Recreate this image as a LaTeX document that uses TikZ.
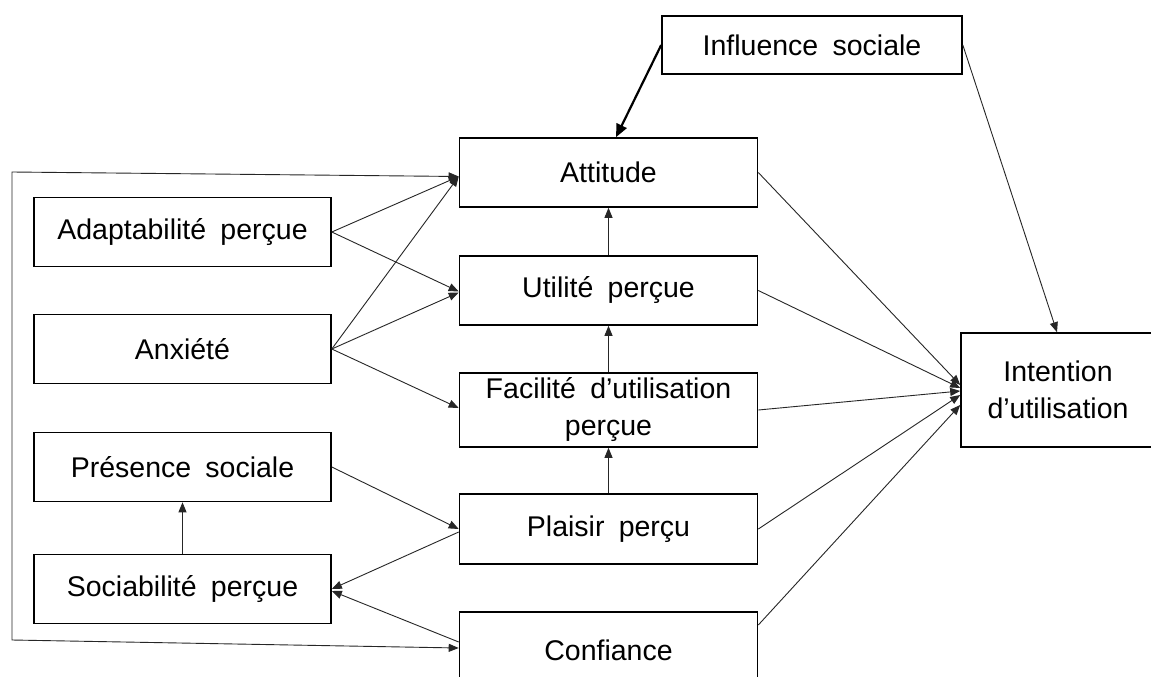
\documentclass[tikz,border=0pt]{standalone}
\usepackage{fontspec}
\setmainfont[WordSpace=1.8]{Liberation Sans}
\usetikzlibrary{arrows.meta}
\begin{document}
\begin{tikzpicture}[x=1pt,y=-1pt,
  box/.style={draw=black,line width=1.6pt,minimum width=298pt,minimum height=69pt,
    inner sep=0pt,font=\fontsize{28.5}{37}\selectfont,align=center},
  conn/.style={line width=0.9pt,draw=black!85,-{Triangle[length=10pt,width=8pt]}},
  thickconn/.style={line width=2.2pt,draw=black,-{Triangle[length=13pt,width=11pt]}},
]
\useasboundingbox (0,0) rectangle (1151,677);
\fill[white] (0,0) rectangle (1151,677);
% nodes
\node[box,minimum width=300pt,minimum height=58pt] (infl) at (812,45) {Influence sociale};
\node[box] (att)  at (608.5,172.5) {Attitude};
\node[box] (util) at (608.5,290.5) {Utilité perçue};
\node[box,minimum height=74pt] (fac) at (608.5,410) {Facilité d’utilisation\\perçue};
\node[box,minimum height=70pt] (plai) at (608.5,529) {Plaisir perçu};
\node[box,minimum height=76pt] (conf) at (608.5,650) {Confiance};
\node[box,minimum width=204pt,minimum height=114pt] (intent) at (1063,390) {\hspace*{-10pt}Intention\\\hspace*{-10pt}d’utilisation};
\node[box,minimum width=297pt] (adapt) at (182.5,232) {Adaptabilité perçue};
\node[box,minimum width=297pt] (anx)   at (182.5,349) {Anxiété};
\node[box,minimum width=297pt] (pres)  at (182.5,467) {Présence sociale};
\node[box,minimum width=297pt] (soc)   at (182.5,589) {Sociabilité perçue};
\coordinate (fb1) at (12,172);
\coordinate (fb2) at (12,640);
% connectors
\draw[thickconn] (infl.west) -- ([xshift=7.5pt]att.north);
\draw[conn] (infl.east) -- ([xshift=-6pt]intent.north);
\draw[conn] (att.east) -- ([yshift=5pt]intent.west);
\draw[conn] (util.east) -- ([yshift=2pt]intent.west);
\draw[conn] (fac.east) -- ([yshift=-1pt]intent.west);
\draw[conn] (plai.east) -- ([yshift=-5pt]intent.west);
\draw[conn] ([yshift=25pt]conf.east) -- ([yshift=-15pt]intent.west);
\draw[conn] (util.north) -- (att.south);
\draw[conn] (fac.north) -- (util.south);
\draw[conn] (plai.north) -- (fac.south);
\draw[conn] (adapt.east) -- ([yshift=-4pt]att.west);
\draw[conn] (adapt.east) -- ([yshift=-1pt]util.west);
\draw[conn] (anx.east) -- ([yshift=-4pt]att.west);
\draw[conn] (anx.east) -- ([yshift=-2pt]util.west);
\draw[conn] (anx.east) -- ([yshift=2pt]fac.west);
\draw[conn] (pres.east) -- (plai.west);
\draw[conn] ([yshift=-3pt]plai.west) -- (soc.east);
\draw[conn] ([yshift=8pt]conf.west) -- ([yshift=-2pt]soc.east);
\draw[conn] (soc.north) -- (pres.south);
\draw[line width=0.9pt,draw=black!85,{Triangle[length=10pt,width=8pt]}-{Triangle[length=10pt,width=8pt]}]
  ([yshift=-4pt]att.west) -- (fb1) -- (fb2) -- ([yshift=2pt]conf.west);
\end{tikzpicture}
\end{document}
